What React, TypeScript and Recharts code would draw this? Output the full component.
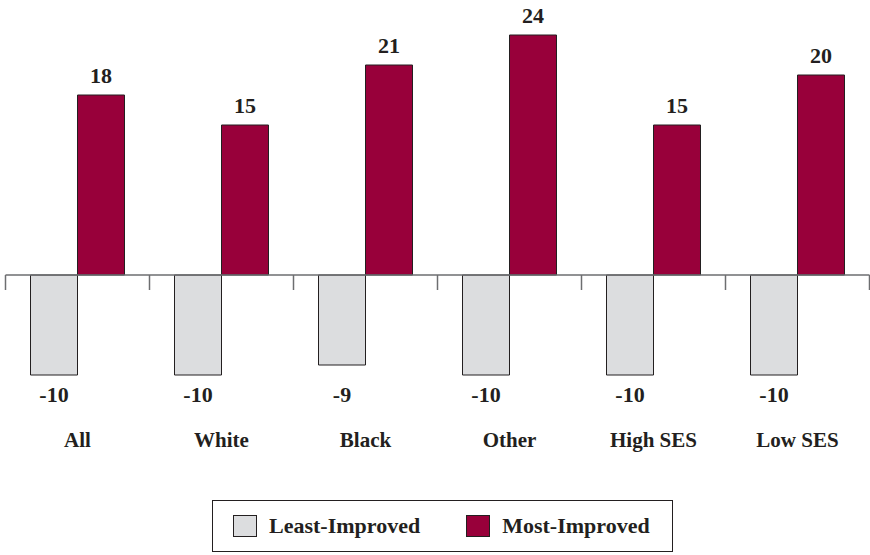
import React from 'react';
import { BarChart, Bar, XAxis, YAxis, ReferenceLine, LabelList } from 'recharts';

const groups = ['All', 'White', 'Black', 'Other', 'High SES', 'Low SES'];
const leastImproved = [-10, -10, -9, -10, -10, -10];
const mostImproved = [18, 15, 21, 24, 15, 20];

const LEAST_COLOR = '#dcdddf';
const MOST_COLOR = '#98003a';
const INK = '#231f20';
const FONT = '"Liberation Serif", "Times New Roman", serif';

const data = groups.map((g, i) => ({
  group: g,
  least: leastImproved[i],
  most: mostImproved[i],
}));

// bottom row: the least-improved value sits above the group name
const GroupTick = (props: any) => {
  const { x, y, payload } = props;
  const idx = groups.indexOf(payload.value);
  const barOffset = -23.5; // center of the first bar in each group
  return (
    <g>
      <text
        x={x + barOffset}
        y={y + 22}
        textAnchor="middle"
        fontFamily={FONT}
        fontWeight="bold"
        fontSize={22}
        fill={INK}
      >
        {leastImproved[idx]}
      </text>
      <text
        x={x}
        y={y + 67}
        textAnchor="middle"
        fontFamily={FONT}
        fontWeight="bold"
        fontSize={21}
        fill={INK}
      >
        {payload.value}
      </text>
    </g>
  );
};

const Swatch = ({ color }: { color: string }) => (
  <span
    style={{
      display: 'inline-block',
      width: 24,
      height: 22,
      background: color,
      border: `1.5px solid ${INK}`,
      marginRight: 12,
      boxSizing: 'border-box',
    }}
  />
);

export default function App() {
  return (
    <div style={{ position: 'absolute', left: 0, top: 0, width: 870, height: 555, background: '#fff' }}>
      <BarChart
        width={870}
        height={470}
        data={data}
        margin={{ top: 25, right: 0.5, left: 5.5, bottom: 0 }}
        barCategoryGap={25}
        barGap={0}
      >
        <XAxis
          dataKey="group"
          axisLine={false}
          tickLine={false}
          tickSize={0}
          tickMargin={0}
          interval={0}
          height={90}
          tick={<GroupTick />}
        />
        <YAxis hide domain={[-10.5, 25]} />
        <Bar dataKey="least" fill={LEAST_COLOR} stroke={INK} strokeWidth={1} isAnimationActive={false} />
        <Bar dataKey="most" fill={MOST_COLOR} stroke={INK} strokeWidth={1} isAnimationActive={false}>
          <LabelList
            dataKey="most"
            position="top"
            offset={12}
            fontFamily={FONT}
            fontWeight="bold"
            fontSize={22}
            fill={INK}
          />
        </Bar>
        <ReferenceLine y={0} stroke="#6d6e70" strokeWidth={1.5} />
        {groups.map((g) => (
          <ReferenceLine
            key={g}
            segment={[{ x: g, y: 0 }, { x: g, y: -1.5 }]}
            position="start"
            stroke="#6d6e70"
            strokeWidth={1.5}
          />
        ))}
        <ReferenceLine
          segment={[{ x: groups[groups.length - 1], y: 0 }, { x: groups[groups.length - 1], y: -1.5 }]}
          position="end"
          stroke="#6d6e70"
          strokeWidth={1.5}
        />
      </BarChart>
      <div
        style={{
          position: 'absolute',
          left: 212,
          top: 500,
          height: 52,
          padding: '0 22px 0 20px',
          border: `1.5px solid ${INK}`,
          boxSizing: 'border-box',
          display: 'flex',
          alignItems: 'center',
          fontFamily: FONT,
          fontWeight: 'bold',
          fontSize: 22,
          color: INK,
        }}
      >
        <span style={{ display: 'flex', alignItems: 'center', marginRight: 46 }}>
          <Swatch color={LEAST_COLOR} />
          Least-Improved
        </span>
        <span style={{ display: 'flex', alignItems: 'center' }}>
          <Swatch color={MOST_COLOR} />
          Most-Improved
        </span>
      </div>
    </div>
  );
}
